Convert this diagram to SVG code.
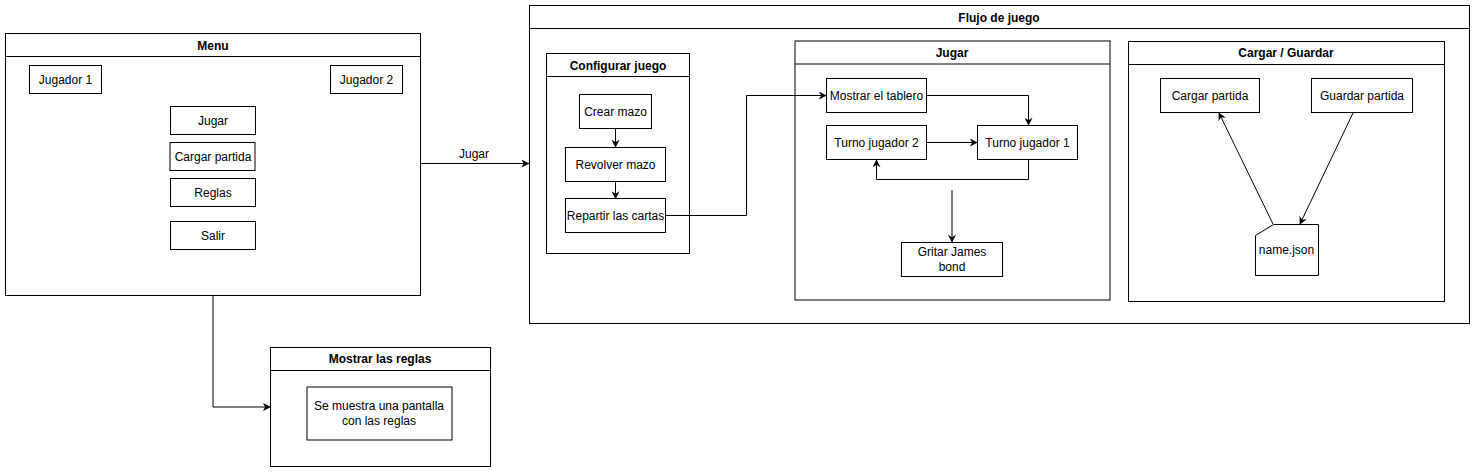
<svg xmlns="http://www.w3.org/2000/svg" width="1475" height="473" viewBox="0 0 1475 473">
<defs>
<style>
.box{fill:#fff;stroke:#000;stroke-width:1}
.ln{fill:none;stroke:#000;stroke-width:1}
.t{font-family:"Liberation Sans",Arial,sans-serif;font-size:12px;fill:#000;text-anchor:middle;dominant-baseline:central}
.b{font-weight:bold}
</style>
<marker id="ar" viewBox="0 0 10 10" refX="9" refY="5" markerWidth="8" markerHeight="8" markerUnits="userSpaceOnUse" orient="auto">
<path d="M0,0 L10,5 L0,10 L3,5 Z" fill="#000"/>
</marker>
</defs>
<rect width="1475" height="473" fill="#fff"/>

<g id="menu">
<rect class="box" x="5.5" y="33.5" width="415" height="262"/>
<line class="ln" x1="5.5" y1="56.5" x2="420.5" y2="56.5"/>
<text class="t b" x="213" y="46">Menu</text>
</g>
<g id="jugador1"><rect class="box" x="29.5" y="65.5" width="72" height="28"/><text class="t" x="65.5" y="79.5">Jugador 1</text></g>
<g id="jugador2"><rect class="box" x="330.5" y="65.5" width="72" height="28"/><text class="t" x="366.5" y="79.5">Jugador 2</text></g>
<g id="btn-jugar"><rect class="box" x="170.5" y="106.5" width="85" height="28"/><text class="t" x="213" y="120.5">Jugar</text></g>
<g id="btn-cargar"><rect class="box" x="170" y="142.5" width="85" height="28"/><text class="t" x="213" y="156.5">Cargar partida</text></g>
<g id="btn-reglas"><rect class="box" x="170.5" y="178.5" width="85" height="28"/><text class="t" x="213" y="192.5">Reglas</text></g>
<g id="btn-salir"><rect class="box" x="170.5" y="221.5" width="85" height="28"/><text class="t" x="213" y="235.5">Salir</text></g>

<g id="reglas">
<rect class="box" x="270.5" y="347.5" width="220" height="119"/>
<line class="ln" x1="270.5" y1="370.5" x2="490.5" y2="370.5"/>
<text class="t b" x="380" y="359">Mostrar las reglas</text>
</g>
<g id="reglas-pantalla">
<rect class="box" x="307" y="387" width="145" height="53"/>
<text class="t" x="379" y="406">Se muestra una pantalla</text>
<text class="t" x="379" y="421">con las reglas</text>
</g>

<g id="flujo">
<rect class="box" x="529.5" y="5.5" width="940" height="318"/>
<line class="ln" x1="529.5" y1="28.5" x2="1469.5" y2="28.5"/>
<text class="t b" x="999" y="18">Flujo de juego</text>
</g>

<g id="configurar">
<rect class="box" x="546.5" y="53.5" width="143" height="200"/>
<line class="ln" x1="546.5" y1="76.5" x2="689.5" y2="76.5"/>
<text class="t b" x="618" y="66">Configurar juego</text>
</g>
<g id="crear-mazo"><rect class="box" x="579.5" y="94.5" width="72" height="34"/><text class="t" x="615.5" y="111.5">Crear mazo</text></g>
<g id="revolver-mazo"><rect class="box" x="565.5" y="147.5" width="100" height="34"/><text class="t" x="615.5" y="164.5">Revolver mazo</text></g>
<g id="repartir"><rect class="box" x="565.5" y="198.5" width="100" height="34"/><text class="t" x="615.5" y="215.5">Repartir las cartas</text></g>

<g id="jugar">
<rect class="box" x="795" y="41" width="315" height="259"/>
<line class="ln" x1="795" y1="64" x2="1110" y2="64"/>
<text class="t b" x="952" y="53">Jugar</text>
</g>
<g id="mostrar-tablero"><rect class="box" x="826.5" y="78.5" width="100" height="34"/><text class="t" x="876.5" y="95.5">Mostrar el tablero</text></g>
<g id="turno2"><rect class="box" x="826.5" y="125.5" width="100" height="34"/><text class="t" x="876.5" y="142.5">Turno jugador 2</text></g>
<g id="turno1"><rect class="box" x="977.5" y="125.5" width="100" height="34"/><text class="t" x="1027.5" y="142.5">Turno jugador 1</text></g>
<g id="gritar"><rect class="box" x="901.5" y="242.5" width="101" height="34"/><text class="t" x="952" y="252">Gritar James</text><text class="t" x="952" y="267">bond</text></g>

<g id="cargar-guardar">
<rect class="box" x="1128.5" y="41.5" width="316" height="260"/>
<line class="ln" x1="1128.5" y1="64.5" x2="1444.5" y2="64.5"/>
<text class="t b" x="1286" y="53">Cargar / Guardar</text>
</g>
<g id="cargar-partida"><rect class="box" x="1160.5" y="78.5" width="99" height="34"/><text class="t" x="1210" y="95.5">Cargar partida</text></g>
<g id="guardar-partida"><rect class="box" x="1311.5" y="78.5" width="101" height="34"/><text class="t" x="1362" y="95.5">Guardar partida</text></g>
<g id="name-json"><path class="box" d="M1273.5,224.5 L1318.5,224.5 L1318.5,275.5 L1255.5,275.5 L1255.5,235.5 Z"/><text class="t" x="1286.5" y="250">name.json</text></g>

<g id="connectors">
<line class="ln" x1="420.5" y1="163.5" x2="528.5" y2="163.5" marker-end="url(#ar)"/>
<text class="t" x="474" y="154">Jugar</text>
<polyline class="ln" points="213,296 213,407 270,407" marker-end="url(#ar)"/>
<line class="ln" x1="615.5" y1="128.5" x2="615.5" y2="147" marker-end="url(#ar)"/>
<line class="ln" x1="615.5" y1="181.5" x2="615.5" y2="198.5" marker-end="url(#ar)"/>
<polyline class="ln" points="665.5,215.5 746.5,215.5 746.5,95.5 826,95.5" marker-end="url(#ar)"/>
<polyline class="ln" points="926.5,95.5 1028.5,95.5 1028.5,125" marker-end="url(#ar)"/>
<line class="ln" x1="926.5" y1="142.5" x2="977" y2="142.5" marker-end="url(#ar)"/>
<polyline class="ln" points="1028.5,159.5 1028.5,179.5 876.5,179.5 876.5,160" marker-end="url(#ar)"/>
<line class="ln" x1="952" y1="190" x2="952" y2="242" marker-end="url(#ar)"/>
<line class="ln" x1="1273" y1="224" x2="1219" y2="113" marker-end="url(#ar)"/>
<line class="ln" x1="1353" y1="113" x2="1300" y2="224" marker-end="url(#ar)"/>
</g>
</svg>
